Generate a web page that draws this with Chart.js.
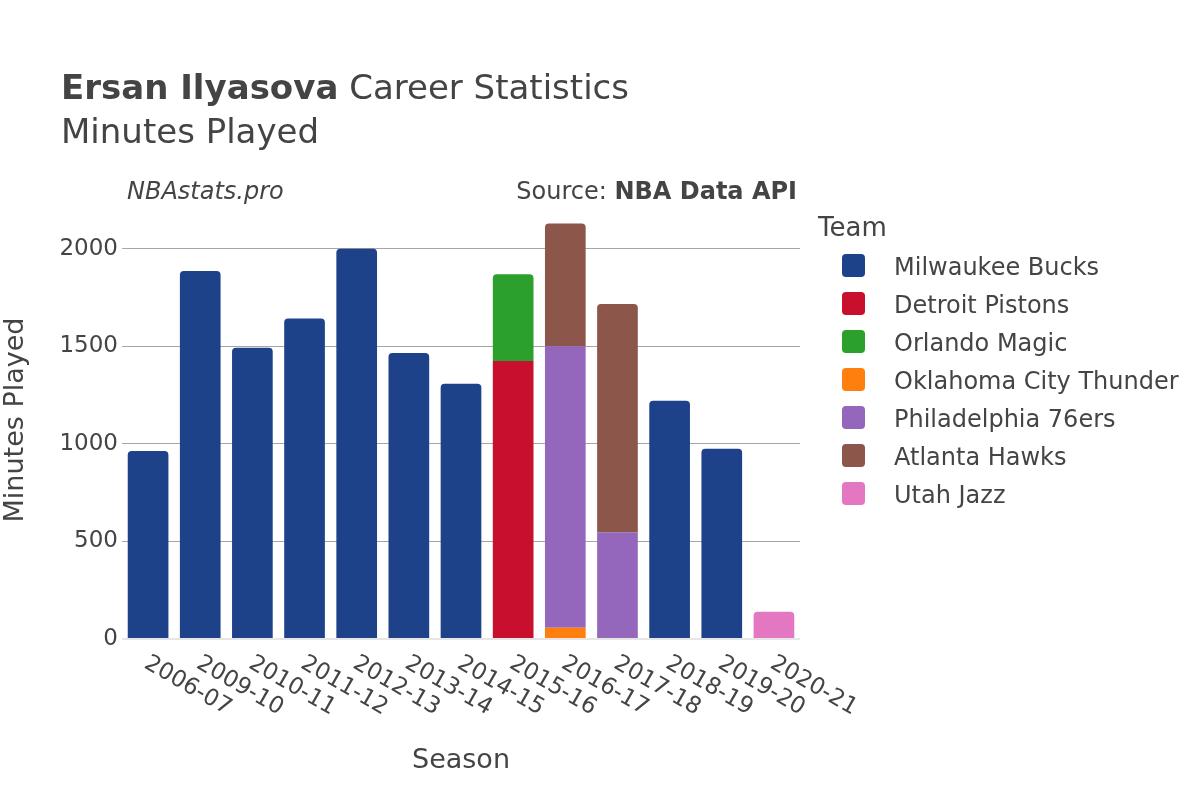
<!DOCTYPE html>
<html>
<head>
<meta charset="utf-8">
<script src="https://cdn.jsdelivr.net/npm/chart.js@4"></script>
<style>
  body { margin: 0; background: #fff; font-family: "DejaVu Sans", sans-serif; color: #444; }
  #wrap { position: relative; width: 1200px; height: 800px; }
  .txt { position: absolute; line-height: 1; white-space: nowrap; }
  .sw { position: absolute; width: 23px; height: 23px; border-radius: 4px; }
</style>
</head>
<body>
<div id="wrap">
  <canvas id="chart" width="1200" height="800"></canvas>
</div>
<script>
const seasons = ['2006-07', '2009-10', '2010-11', '2011-12', '2012-13', '2013-14', '2014-15',
                 '2015-16', '2016-17', '2017-18', '2018-19', '2019-20', '2020-21'];
const teams = ['Milwaukee Bucks', 'Detroit Pistons', 'Orlando Magic', 'Oklahoma City Thunder',
               'Philadelphia 76ers', 'Atlanta Hawks', 'Utah Jazz'];
const teamColors = ['#1d428a', '#c8102e', '#2ca02c', '#ff7f0e', '#9467bd', '#8c564b', '#e377c2'];

// minutes per season, one array per team (null = did not play there)
const milwaukee = [964, 1887, 1494, 1644, 2001, 1467, 1309, null, null, null, 1222, 976, null];
const detroit   = [null, null, null, null, null, null, null, 1426, null, null, null, null, null];
const orlando   = [null, null, null, null, null, null, null, 445, null, null, null, null, null];
const okc       = [null, null, null, null, null, null, null, null, 58, null, null, null, null];
const philly    = [null, null, null, null, null, null, null, null, 1443, 548, null, null, null];
const atlanta   = [null, null, null, null, null, null, null, null, 630, 1170, null, null, null];
const utah      = [null, null, null, null, null, null, null, null, null, null, null, null, 140];
const teamMinutes = [milwaukee, detroit, orlando, okc, philly, atlanta, utah];

const yTicks = [0, 500, 1000, 1500, 2000];

// text overlays, placed by baseline (DejaVu Sans, line-height 1)
const wrap = document.getElementById('wrap');
function addText(html, size, left, baseline, extra) {
  const d = document.createElement('div');
  d.className = 'txt';
  d.innerHTML = html;
  d.style.fontSize = size + 'px';
  d.style.top = (baseline - 0.846 * size) + 'px';
  if (left !== null) d.style.left = left + 'px';
  Object.assign(d.style, extra || {});
  wrap.appendChild(d);
}
addText('<b>Ersan Ilyasova</b> Career Statistics', 34, 61, 99);
addText('Minutes Played', 34, 61, 143);
addText('<i>NBAstats.pro</i>', 24, 127, 199);
addText('Source: <b>NBA Data API</b>', 24, null, 199, { right: '403px' });
addText('Team', 26, 818, 236);
teams.forEach((t, i) => {
  const sw = document.createElement('div');
  sw.className = 'sw';
  sw.style.left = '842px';
  sw.style.top = (254 + i * 38) + 'px';
  sw.style.background = teamColors[i];
  wrap.appendChild(sw);
  addText(t, 24, 894, 275 + i * 38);
});

// rotated season labels, going down to the right from each tick
const seasonLabels = {
  id: 'seasonLabels',
  afterDraw(chart) {
    const ctx = chart.ctx;
    const xs = chart.scales.x;
    ctx.save();
    ctx.font = '23px "DejaVu Sans"';
    ctx.fillStyle = '#444';
    ctx.textAlign = 'left';
    ctx.textBaseline = 'alphabetic';
    seasons.forEach((s, i) => {
      const x = xs.getPixelForValue(i);
      ctx.save();
      ctx.translate(x - 5, 667);
      ctx.rotate(Math.PI / 6);
      ctx.fillText(s, 0, 0);
      ctx.restore();
    });
    ctx.restore();
  }
};

Chart.defaults.font.family = '"DejaVu Sans"';
Chart.defaults.color = '#444';

new Chart(document.getElementById('chart'), {
  type: 'bar',
  data: {
    labels: seasons,
    datasets: teams.map((t, i) => ({
      label: t,
      data: teamMinutes[i],
      backgroundColor: teamColors[i],
      borderRadius: 4,
      borderSkipped: 'start',
      barPercentage: 0.78,
      categoryPercentage: 1
    }))
  },
  options: {
    responsive: false,
    animation: false,
    devicePixelRatio: 1,
    layout: { padding: { left: 0, right: 400, top: 201, bottom: 0 } },
    plugins: {
      legend: { display: false },
      tooltip: { enabled: false }
    },
    scales: {
      x: {
        stacked: true,
        grid: { display: false },
        border: { display: false },
        ticks: { display: false },
        title: {
          display: true,
          text: 'Season',
          font: { size: 27, lineHeight: 1 },
          padding: { top: 0, bottom: 26 }
        },
        afterFit(scale) { scale.height = 161; }
      },
      y: {
        stacked: true,
        min: 0,
        max: 2246,
        border: { display: false },
        grid: {
          drawTicks: false,
          color: c => c.tick && c.tick.value === 0 ? '#e6e6e6' : '#a6a6a6',
          lineWidth: c => c.tick && c.tick.value === 0 ? 2 : 1
        },
        afterBuildTicks(scale) { scale.ticks = yTicks.map(v => ({ value: v })); },
        ticks: { font: { size: 23 }, padding: 4, callback: v => String(v) },
        title: {
          display: true,
          text: 'Minutes Played',
          font: { size: 27, lineHeight: 1 },
          padding: { top: 2, bottom: 0 }
        },
        afterFit(scale) { scale.width = 122; }
      }
    }
  },
  plugins: [seasonLabels]
});
</script>
</body>
</html>
